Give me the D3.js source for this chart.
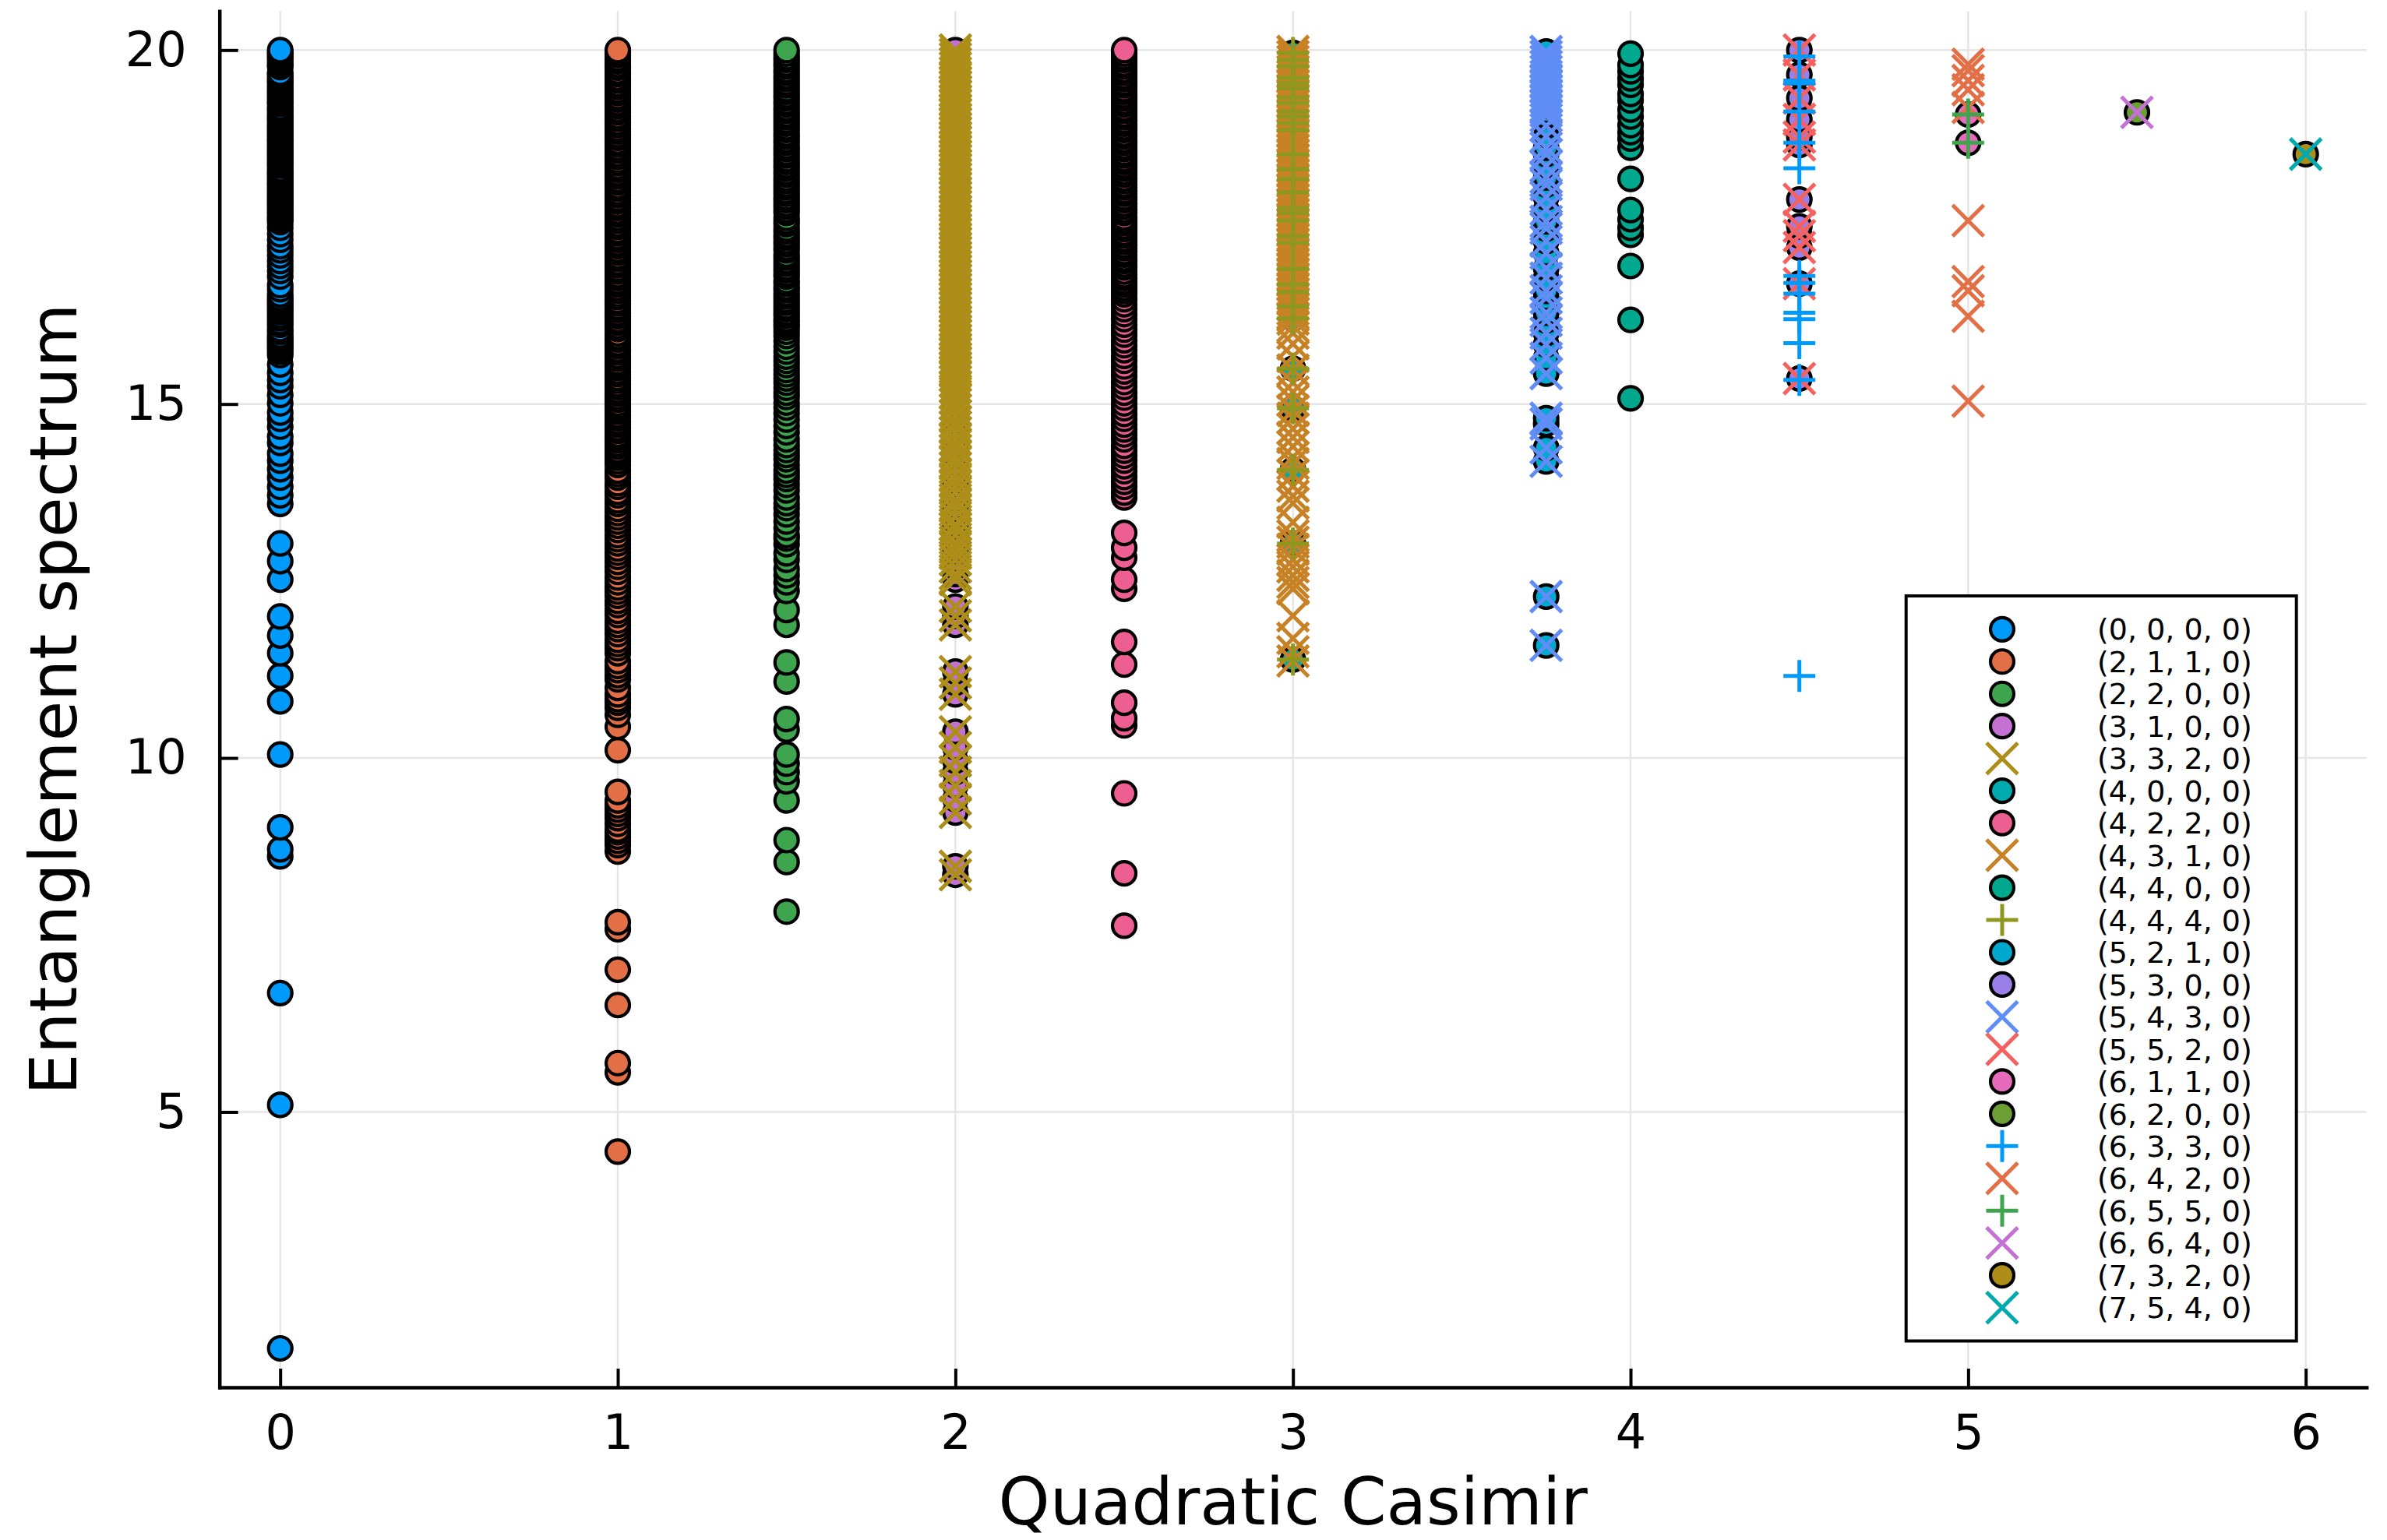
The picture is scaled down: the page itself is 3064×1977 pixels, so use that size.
<!DOCTYPE html>
<html><head><meta charset="utf-8">
<script src="https://cdn.jsdelivr.net/npm/d3@7"></script>
<style>
body{margin:0;background:#fff}
text{font-family:"DejaVu Sans",sans-serif;fill:#000}
</style>
</head><body>
<svg id="c" width="3064" height="1977"></svg>
<script>
// ---------- DATA ----------
const seriesLabels = ["(0, 0, 0, 0)","(2, 1, 1, 0)","(2, 2, 0, 0)","(3, 1, 0, 0)","(3, 3, 2, 0)","(4, 0, 0, 0)","(4, 2, 2, 0)","(4, 3, 1, 0)","(4, 4, 0, 0)","(4, 4, 4, 0)","(5, 2, 1, 0)","(5, 3, 0, 0)","(5, 4, 3, 0)","(5, 5, 2, 0)","(6, 1, 1, 0)","(6, 2, 0, 0)","(6, 3, 3, 0)","(6, 4, 2, 0)","(6, 5, 5, 0)","(6, 6, 4, 0)","(7, 3, 2, 0)","(7, 5, 4, 0)"];
const casimir = [0, 1, 1.5, 2, 2, 3, 2.5, 3, 4, 3, 3.75, 4.5, 3.75, 4.5, 5, 5.5, 4.5, 5, 5, 5.5, 6, 6];
const markerKinds = ["circle","circle","circle","circle","xcross","circle","circle","xcross","circle","cross","circle","circle","xcross","xcross","circle","circle","cross","xcross","cross","xcross","circle","xcross"];
const palette = ["#009AFA","#E36F47","#3EA44E","#C371D2","#AC8E18","#00AAAE","#ED5E93","#C68225","#00A98D","#8E971E","#00A9CD","#9B7FE9","#618DF6","#F4615F","#E76BBC","#6C9F33"];
const xTicks = [0,1,2,3,4,5,6];
const xTickLabels = ["0","1","2","3","4","5","6"];
const yTicks = [5,10,15,20];
const yTickLabels = ["5","10","15","20"];
const xTitle = "Quadratic Casimir";
const yTitle = "Entanglement spectrum";

// (0,0,0,0)
const v0000 = [1.66,5.10,6.68,8.61,8.71,9.02,10.05,10.80,11.16,11.48,11.73,12.00,12.52,12.78,13.03,13.59,13.71,13.83,13.96,14.08,14.20,14.30,14.45,14.54,14.68,14.79,14.88,15.01,15.13,15.25,15.34,15.44,15.56,15.69,15.74,15.78,15.82,15.86,15.90,15.93,15.97,16.02,16.06,16.12,16.16,16.21,16.25,16.30,16.34,16.38,16.42,16.46,16.50,16.55,16.62,16.68,16.80,16.88,16.95,17.02,17.10,17.17,17.23,17.32,17.40,17.49,17.57,
17.61,17.64,17.68,17.72,17.76,17.80,17.83,17.87,17.91,17.95,17.98,18.02,18.06,18.10,18.13,18.17,18.21,18.25,18.28,18.32,18.37,18.40,18.44,18.48,18.52,18.55,18.59,18.63,18.67,18.71,18.74,18.78,18.82,18.86,18.89,18.93,18.97,19.01,19.04,19.08,19.12,19.16,19.19,19.24,19.27,19.31,19.35,19.39,19.42,19.46,19.50,19.54,19.57,19.61,19.65,19.68,19.76,19.79,19.83,19.87,19.91,19.94,19.97,20.00];
// (2,1,1,0)
const v2110 = [4.44,5.56,5.69,6.51,7.01,7.58,7.68,8.68,8.77,8.83,8.89,8.95,8.99,9.07,9.15,9.21,9.27,9.33,9.40,9.52,10.11,10.44,10.61,10.71,10.78,10.83,10.90,10.99,11.11,11.17,11.24,11.30,11.37,11.48,11.55,11.61,11.67,11.75,11.82,11.88,11.94,12.02,12.08,12.16,12.22,12.29,12.35,12.41,12.48,12.55,12.63,12.70,12.77,12.84,12.90,12.96,13.03,13.09,13.15,13.22,13.28,13.34,13.40,13.46,13.52,13.59,13.64,13.71,13.76,13.83,13.88,13.96,14.01,14.06,14.14,14.19,14.24,14.27,
14.31,14.35,14.40,14.44,14.49,14.53,14.57,14.62,14.66,14.71,14.75,14.80,14.84,14.89,14.93,14.97,15.01,15.06,15.10,15.15,15.19,15.24,15.28,15.33,15.37,15.42,15.46,15.51,15.55,15.59,15.64,15.68,15.73,15.77,15.82,15.86,15.91,15.95,16.00,16.06,16.10,16.15,16.19,16.24,16.28,16.33,16.37,16.42,16.46,16.51,16.55,16.60,16.64,16.69,16.73,16.78,16.82,16.87,16.91,16.96,17.00,17.05,17.09,17.14,17.18,17.23,17.27,17.32,17.36,17.41,17.45,17.50,17.54,17.59,17.63,17.68,17.72,17.77,17.81,17.86,17.90,17.95,17.99,18.04,18.08,18.13,18.17,18.22,18.26,18.31,18.35,18.40,18.44,18.49,18.53,18.58,18.62,18.67,18.71,18.76,18.80,18.85,18.89,18.94,18.98,19.03,19.07,19.12,19.16,19.21,19.25,19.30,19.34,19.39,19.43,19.48,19.52,19.57,19.61,19.66,19.70,19.75,19.79,19.84,19.88,19.93,19.97,20.00];
// (2,2,0,0)
const v2200 = [7.83,8.53,8.84,9.40,9.67,9.80,9.92,10.05,10.40,10.55,11.08,11.35,11.88,12.09,12.36,12.48,12.58,12.67,12.80,12.89,13.02,13.10,13.15,13.25,13.34,13.44,13.53,13.60,13.68,13.78,13.86,13.94,14.00,14.06,14.14,14.22,14.28,14.35,14.42,14.50,14.60,14.69,14.78,14.87,14.95,15.02,15.10,15.16,15.23,15.30,15.36,15.42,15.48,15.55,15.61,15.67,15.74,15.81,15.89,15.96,16.02,16.08,16.12,16.16,
16.20,16.25,16.29,16.34,16.38,16.43,16.47,16.52,16.56,16.61,16.65,16.70,16.74,16.80,16.84,16.89,16.93,16.98,17.02,17.07,17.11,17.17,17.21,17.26,17.30,17.35,17.39,17.44,17.48,17.54,17.58,17.63,17.70,17.74,17.79,17.83,17.88,17.92,17.97,18.01,18.06,18.10,18.15,18.19,18.24,18.28,18.33,18.37,18.42,18.46,18.51,18.55,18.60,18.64,18.69,18.73,18.78,18.82,18.87,18.91,18.96,19.00,19.05,19.09,19.14,19.18,19.23,19.27,19.32,19.36,19.41,19.45,19.50,19.54,19.59,19.63,19.68,19.72,19.77,19.81,19.86,19.90,19.95,20.00];
// (3,1,0,0) and its conjugate (3,3,2,0)
const v3100 = [8.35,8.47,9.23,9.42,9.61,9.80,9.96,10.15,10.37,10.90,11.06,11.22,11.88,12.01,12.14,12.52,12.60,12.70,12.80,12.89,12.97,13.05,13.15,13.24,13.30,13.40,13.50,13.58,13.65,13.75,13.84,13.92,14.00,14.10,14.18,14.26,14.35,14.42,14.50,14.60,14.68,14.75,14.84,14.92,15.00,15.08,15.16,15.24,15.32,15.40,
15.46,15.52,15.59,15.65,15.72,15.78,15.85,15.91,15.98,16.04,16.11,16.17,16.24,16.30,16.37,16.43,16.50,16.56,16.63,16.69,16.76,16.82,16.89,16.95,17.02,17.08,17.15,17.21,17.28,17.34,17.41,17.47,17.54,17.60,17.67,17.73,17.80,17.86,17.93,17.99,18.06,18.12,18.19,18.25,18.32,18.38,18.45,18.51,18.58,18.64,18.71,18.77,18.84,18.90,18.97,19.03,19.10,19.16,19.23,19.29,19.36,19.42,19.49,19.55,19.62,19.68,19.75,19.81,19.88,19.94,20.00];
// (4,2,2,0)
const v4220 = [7.63,8.37,9.50,10.46,10.56,10.78,11.32,11.64,12.39,12.52,12.83,12.97,13.18,13.68,13.75,13.83,13.90,13.97,14.05,14.12,14.20,14.27,14.34,14.41,14.50,14.57,14.64,14.71,14.79,14.86,14.94,15.01,15.09,15.16,15.24,15.31,15.39,15.46,15.53,15.61,15.68,15.76,15.83,15.90,15.98,16.05,16.12,16.20,16.27,16.34,16.41,16.48,16.55,
16.60,16.64,16.69,16.73,16.78,16.82,16.87,16.93,16.97,17.02,17.06,17.11,17.15,17.20,17.24,17.29,17.33,17.38,17.42,17.47,17.51,17.56,17.60,17.64,17.70,17.74,17.79,17.83,17.88,17.92,17.97,18.01,18.06,18.10,18.15,18.19,18.24,18.28,18.33,18.37,18.42,18.46,18.51,18.55,18.60,18.64,18.69,18.73,18.78,18.82,18.87,18.91,18.96,19.00,19.05,19.09,19.14,19.18,19.23,19.27,19.32,19.36,19.41,19.45,19.50,19.54,19.59,19.63,19.68,19.72,19.77,19.81,19.86,19.90,19.95,20.00];
// (4,0,0,0) and its conjugate (4,4,4,0)
const v4000 = [11.39,13.03,14.07,14.94,15.50,16.21,16.38,16.58,16.69,16.91,17.28,17.37,17.59,17.70,17.77,17.99,18.18,18.32,18.53,18.87,18.97,19.06,19.13,19.25,19.33,19.46,19.53,19.61,19.77,19.86,19.96];
// (4,3,1,0)
const v4310 = [11.37,11.50,11.69,12.01,12.39,12.48,12.58,12.70,12.80,12.95,13.05,13.14,13.33,13.60,13.70,13.84,14.00,14.16,14.25,14.40,14.53,14.65,14.80,14.91,15.05,15.17,15.30,15.48,15.67,15.85,16.00,16.10,16.20,16.28,
16.34,16.41,16.48,16.55,16.62,16.69,16.76,16.83,16.90,16.97,17.04,17.11,17.18,17.25,17.32,17.39,17.46,17.53,17.60,17.67,17.74,17.81,17.88,17.95,18.02,18.09,18.16,18.23,18.30,18.37,18.44,18.51,18.58,18.65,18.72,18.79,18.86,18.93,19.00,19.07,19.14,19.21,19.28,19.35,19.42,19.49,19.56,19.63,19.70,19.77,19.84,19.91,19.98];
// (4,4,0,0)
const v4400 = [15.08,16.19,16.95,17.39,17.49,17.61,17.74,18.18,18.62,18.75,18.84,18.94,19.06,19.16,19.29,19.38,19.51,19.60,19.70,19.79,19.95];
// (5,2,1,0) and its conjugate (5,4,3,0)
const v5210 = [11.59,12.28,14.19,14.38,14.72,14.80,15.43,15.65,15.84,16.00,16.18,16.29,16.50,16.60,16.78,16.92,17.13,17.30,17.48,17.58,17.75,17.92,18.10,18.20,18.36,18.53,18.62,18.78,18.93,19.07,19.14,19.21,19.28,19.35,19.42,19.49,19.56,19.63,19.70,19.77,19.84,19.91,19.98];
// (5,3,0,0) and its conjugate (5,5,2,0)
const v5300 = [15.36,16.70,17.21,17.38,17.51,17.89,18.66,18.77,19.02,19.32,19.65,20.00];
// (6,1,1,0) and its conjugate (6,5,5,0)
const v6110 = [18.69,19.09];
// (6,2,0,0) and its conjugate (6,6,4,0)
const v6200 = [19.12];
// (6,3,3,0)
const v6330 = [11.16,15.34,15.86,16.20,16.29,16.56,16.71,16.81,18.33,18.69,19.13,19.53,19.57,19.91];
// (6,4,2,0)
const v6420 = [15.04,16.24,16.60,16.73,17.59,19.19,19.44,19.57,19.71,19.80];
// (7,3,2,0) and its conjugate (7,5,4,0)
const v7320 = [18.53];

const seriesValues = [v0000,v2110,v2200,v3100,v3100,v4000,v4220,v4310,v4400,v4000,v5210,v5300,v5210,v5300,v6110,v6200,v6330,v6420,v6110,v6200,v7320,v7320];

// ---------- CHART ----------
const svg = d3.select("#c");
const plot = {left:281.7, right:3037.7, top:14.3, bottom:1781};
const allY = seriesValues.flat();
const [ymin, ymax] = d3.extent(allY);
const ypad = 0.03*(ymax-ymin);
const [xmin, xmax] = d3.extent(casimir);
const xpad = 0.03*(xmax-xmin);
const x = d3.scaleLinear().domain([xmin-xpad, xmax+xpad]).range([plot.left, plot.right]);
const y = d3.scaleLinear().domain([ymin-ypad, ymax+ypad]).range([plot.bottom, plot.top]);

svg.append("rect").attr("width",3064).attr("height",1977).attr("fill","#fff");

// grid
const grid = svg.append("g").attr("stroke","rgb(230,230,230)").attr("stroke-width",2.5);
grid.selectAll(".gx").data(xTicks).join("line")
  .attr("x1",d=>x(d)).attr("x2",d=>x(d)).attr("y1",plot.top).attr("y2",plot.bottom);
grid.selectAll(".gy").data(yTicks).join("line")
  .attr("y1",d=>y(d)).attr("y2",d=>y(d)).attr("x1",plot.left).attr("x2",plot.right);

// axes
function styleAxis(g){
  g.select(".domain").attr("stroke","#000").attr("stroke-width",4.5).attr("stroke-linecap","square");
  g.selectAll(".tick line").attr("stroke","#000").attr("stroke-width",4);
  g.selectAll(".tick text").attr("font-size",62).attr("font-family","DejaVu Sans").attr("fill","#000");
}
const xAxis = d3.axisBottom(x).tickValues(xTicks).tickFormat((d,i)=>xTickLabels[i])
  .tickSizeInner(-24).tickSizeOuter(0).tickPadding(35);
svg.append("g").attr("transform",`translate(0,${plot.bottom})`).call(xAxis).call(styleAxis);
const yAxis = d3.axisLeft(y).tickValues(yTicks).tickFormat((d,i)=>yTickLabels[i])
  .tickSizeInner(-24).tickSizeOuter(0).tickPadding(42);
svg.append("g").attr("transform",`translate(${plot.left},0)`).call(yAxis).call(styleAxis);

// markers
const R = 15, XH = 20, PH = 20.5;
function drawMarker(g, kind, color){
  if(kind==="circle"){
    g.append("circle").attr("r",R).attr("fill",color).attr("stroke","#000").attr("stroke-width",4.2);
  } else if(kind==="xcross"){
    g.append("path").attr("d",`M${-XH},${-XH}L${XH},${XH}M${-XH},${XH}L${XH},${-XH}`)
      .attr("stroke",color).attr("stroke-width",5).attr("fill","none");
  } else {
    g.append("path").attr("d",`M${-PH},0H${PH}M0,${-PH}V${PH}`)
      .attr("stroke",color).attr("stroke-width",5).attr("fill","none");
  }
}
const marks = svg.append("g");
seriesValues.forEach((vals,i)=>{
  const color = palette[i % palette.length];
  const sg = marks.append("g");
  const sorted = vals.slice().sort((a,b)=>a-b);
  sorted.forEach(v=>{
    const g = sg.append("g").attr("transform",`translate(${x(casimir[i])},${y(v)})`);
    drawMarker(g, markerKinds[i], color);
  });
});

// axis titles
svg.append("text").attr("x",(plot.left+plot.right)/2).attr("y",1957)
  .attr("text-anchor","middle").attr("font-size",84).text(xTitle);
svg.append("text").attr("transform",`translate(98,${(plot.top+plot.bottom)/2}) rotate(-90)`)
  .attr("text-anchor","middle").attr("font-size",84).text(yTitle);

// legend
const lg = svg.append("g");
lg.append("rect").attr("x",2446.7).attr("y",765).attr("width",501).attr("height",956.5)
  .attr("fill","#fff").attr("stroke","#000").attr("stroke-width",4);
seriesLabels.forEach((lab,i)=>{
  const yy = 807.8 + i*41.47;
  const g = lg.append("g").attr("transform",`translate(2570,${yy})`);
  drawMarker(g, markerKinds[i], palette[i % palette.length]);
  lg.append("text").attr("x",2692).attr("y",yy).attr("dy","0.36em")
    .attr("font-size",38).text(lab);
});
</script>
</body></html>
